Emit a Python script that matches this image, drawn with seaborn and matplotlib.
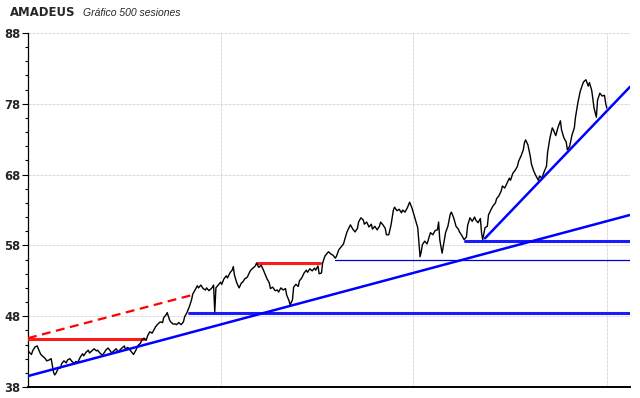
import numpy as np
import pandas as pd
import matplotlib
matplotlib.use("Agg")
import matplotlib.pyplot as plt
import seaborn as sns

# ---------------- data ----------------
sessions = [0, 1, 3, 4, 6, 8, 9, 11, 13, 15, 16, 18, 20, 21, 22, 23, 24, 26, 28, 29,
            31, 33, 34, 36, 38, 40, 41, 43, 45, 47, 48, 50, 52, 53, 55, 57, 59, 60, 62, 64,
            66, 67, 69, 71, 72, 74, 76, 78, 79, 81, 83, 84, 86, 88, 90, 91, 93, 95, 97, 98,
            100, 102, 103, 105, 107, 109, 110, 112, 114, 116, 117, 119, 120, 122, 123, 125, 127, 128, 130, 132,
            134, 135, 137, 139, 141, 142, 144, 146, 147, 149, 151, 153, 154, 156, 158, 159, 160, 161, 162, 164,
            166, 167, 169, 171, 172, 174, 176, 177, 178, 180, 182, 184, 185, 187, 189, 191, 192, 194, 196, 197,
            199, 201, 203, 204, 206, 208, 209, 211, 213, 215, 216, 218, 220, 222, 223, 225, 226, 228, 229, 231,
            233, 234, 236, 238, 240, 241, 243, 245, 247, 248, 250, 251, 253, 254, 256, 258, 259, 261, 263, 265,
            266, 268, 270, 272, 273, 275, 277, 278, 280, 282, 284, 285, 287, 289, 290, 292, 294, 296, 297, 299,
            301, 303, 304, 306, 308, 309, 311, 313, 315, 316, 318, 320, 322, 323, 325, 327, 328, 329, 331, 333,
            334, 336, 338, 339, 340, 342, 344, 346, 347, 349, 351, 353, 354, 355, 357, 359, 360, 362, 364, 365,
            367, 369, 371, 372, 374, 376, 378, 379, 381, 383, 385, 386, 388, 390, 391, 392, 394, 396, 397, 399,
            401, 403, 404, 406, 408, 409, 411, 413, 415, 416, 418, 420, 422, 423, 425, 427, 428, 429, 431, 433,
            434, 436, 438, 440, 441, 443, 445, 447, 448, 450, 452, 453, 455, 457, 459, 460, 462, 464, 465, 467,
            469, 471, 472, 474, 476, 478, 479, 481, 483, 484, 486, 488, 490, 491, 493, 495, 497, 498, 499]

prices = [43.2, 42.9, 42.6, 43.1, 43.65, 43.8, 43.35, 42.6, 42.3, 42.0, 41.7, 41.8, 42.0, 41.0, 40.1, 39.7, 39.9, 40.6, 40.7, 41.3,
          41.7, 41.4, 41.8, 42.0, 41.6, 41.3, 41.6, 41.5, 42.2, 42.7, 42.4, 42.9, 43.2, 42.8, 43.1, 43.4, 43.1, 43.2, 42.8, 42.5,
          42.9, 43.2, 43.5, 43.1, 42.8, 43.1, 43.4, 42.9, 43.2, 43.5, 43.8, 43.35, 43.6, 43.2, 42.8, 42.6, 43.2, 43.9, 44.2, 44.6,
          44.9, 44.6, 45.2, 45.8, 45.6, 46.2, 46.5, 46.9, 47.2, 47.1, 47.8, 48.2, 48.5, 47.5, 47.2, 46.9, 46.9, 46.8, 47.1, 46.8,
          47.2, 47.9, 48.5, 49.3, 50.3, 51.1, 51.7, 52.3, 52.0, 52.4, 51.9, 51.7, 52.0, 51.6, 51.9, 52.1, 52.4, 48.6, 52.0, 52.4,
          52.8, 52.5, 53.3, 53.7, 53.4, 54.1, 54.5, 55.0, 53.8, 52.7, 52.0, 52.7, 52.8, 53.3, 53.5, 54.2, 54.5, 54.8, 55.1, 55.5,
          54.9, 55.2, 54.5, 54.1, 53.3, 52.7, 51.9, 52.1, 51.6, 51.7, 51.4, 52.0, 51.7, 51.9, 51.0, 50.2, 49.6, 50.3, 52.1, 52.5,
          52.2, 53.0, 53.4, 54.1, 54.5, 54.2, 54.7, 54.4, 54.8, 54.5, 55.1, 54.0, 54.1, 55.5, 56.5, 56.9, 57.1, 56.8, 56.6, 56.2,
          56.5, 57.4, 57.8, 58.2, 58.8, 59.9, 60.6, 60.9, 60.3, 59.9, 60.4, 61.3, 61.9, 61.6, 61.0, 61.3, 60.6, 61.0, 60.3, 60.7,
          60.2, 60.7, 61.3, 60.9, 60.4, 59.5, 59.5, 60.9, 63.0, 63.4, 62.9, 63.1, 62.6, 63.0, 62.7, 63.3, 63.7, 64.1, 63.3, 62.2,
          61.6, 60.5, 56.4, 57.1, 58.1, 58.6, 58.2, 59.3, 59.8, 59.5, 60.1, 60.2, 61.3, 58.8, 56.9, 58.8, 59.8, 60.7, 62.4, 62.7,
          61.9, 60.7, 60.3, 59.9, 59.4, 58.8, 59.2, 60.8, 61.9, 61.4, 62.0, 61.6, 61.2, 61.8, 59.8, 58.8, 60.5, 60.7, 62.3, 63.0,
          63.6, 64.0, 64.6, 65.0, 65.7, 66.4, 66.1, 66.8, 67.5, 67.2, 68.2, 68.6, 69.2, 69.9, 70.6, 71.5, 72.5, 72.9, 72.2, 70.6,
          69.5, 68.5, 67.8, 67.2, 67.8, 67.5, 68.4, 69.2, 71.2, 73.2, 74.6, 74.3, 73.5, 74.7, 75.6, 74.3, 73.2, 72.6, 71.5, 72.0,
          73.6, 74.6, 76.1, 78.1, 79.7, 80.7, 81.1, 81.4, 80.5, 81.0, 79.9, 77.4, 76.1, 78.5, 79.5, 79.1, 79.2, 78.1, 77.4]

# drawn study lines: (start session, start value, end session, end value)
red_support = [0, 44.8, 100, 44.8]
red_dashed = [0, 44.9, 144, 51.1]
red_resist = [197, 55.5, 252, 55.5]
blue_h48 = [139, 48.4, 519, 48.4]
blue_trend_long = [0, 39.55, 519, 62.3]
blue_thin56 = [265, 56.0, 519, 56.0]
blue_h58 = [377, 58.6, 519, 58.6]
blue_trend_short = [394, 59.0, 519, 80.4]

y_ticks = [38, 48, 58, 68, 78, 88]
x_grid = [0, 166, 332, 499]
title = "AMADEUS"
subtitle = "Gráfico 500 sesiones"

# ---------------- figure ----------------
sns.set_style("white")
plt.rcParams["font.family"] = ["DejaVu Sans"]

fig = plt.figure(figsize=(6.4, 3.98), dpi=100)
ax = fig.add_axes([28 / 640, 1 - 387 / 398, (630 - 28) / 640, (387 - 33) / 398])

df = pd.DataFrame({"session": sessions, "price": prices})
sns.lineplot(data=df, x="session", y="price", ax=ax, color="black", linewidth=1.0,
             estimator=None, sort=False, zorder=5)


def seg(line, **kw):
    d = pd.DataFrame({"s": [line[0], line[2]], "v": [line[1], line[3]]})
    sns.lineplot(data=d, x="s", y="v", ax=ax, estimator=None, sort=False, **kw)


seg(red_support, color="#ff1a1a", linewidth=2.2, zorder=4)
seg(red_dashed, color="#ff0000", linewidth=1.6, linestyle=(0, (4, 2.5)), zorder=4)
seg(red_resist, color="#ff1a1a", linewidth=2.2, zorder=4)
seg(blue_h48, color="#1a1aff", linewidth=2.2, zorder=4)
seg(blue_trend_long, color="#0000ff", linewidth=1.8, zorder=6)
seg(blue_thin56, color="#0000cc", linewidth=0.9, zorder=4)
seg(blue_h58, color="#1a1aff", linewidth=2.2, zorder=4)
seg(blue_trend_short, color="#0000ff", linewidth=1.8, zorder=6)

ax.set_xlim(0, 519)
ax.set_ylim(38, 88)
ax.set_xlabel("")
ax.set_ylabel("")

ax.set_yticks(y_ticks)
ax.set_yticklabels([str(t) for t in y_ticks], fontweight="bold", fontsize=8.3)
ax.set_yticks(np.arange(38, 89, 2), minor=True)
ax.set_xticks(x_grid)
ax.set_xticklabels([])
ax.tick_params(axis="x", length=0)
ax.tick_params(axis="y", which="major", length=4.3, width=0.8, color="black", pad=1, left=True)
ax.tick_params(axis="y", which="minor", length=2.2, width=0.8, color="black", left=True)

ax.grid(True, which="major", color="#e0d6e0", linestyle=(0, (3, 1)), linewidth=0.72)
ax.set_axisbelow(True)

for s in ["top", "right"]:
    ax.spines[s].set_visible(False)
ax.spines["left"].set_color("black")
ax.spines["left"].set_linewidth(0.9)
ax.spines["bottom"].set_color("black")
ax.spines["bottom"].set_linewidth(1.4)

fig.text(10 / 640, 1 - 16 / 398, title, fontweight="bold", fontsize=8.4,
         fontfamily="DejaVu Sans", va="baseline", ha="left")
fig.text(83 / 640, 1 - 16 / 398, subtitle, fontstyle="italic", fontsize=7.5,
         fontfamily="Liberation Sans", va="baseline", ha="left")

fig.savefig("out.png", dpi=100, facecolor="white")
